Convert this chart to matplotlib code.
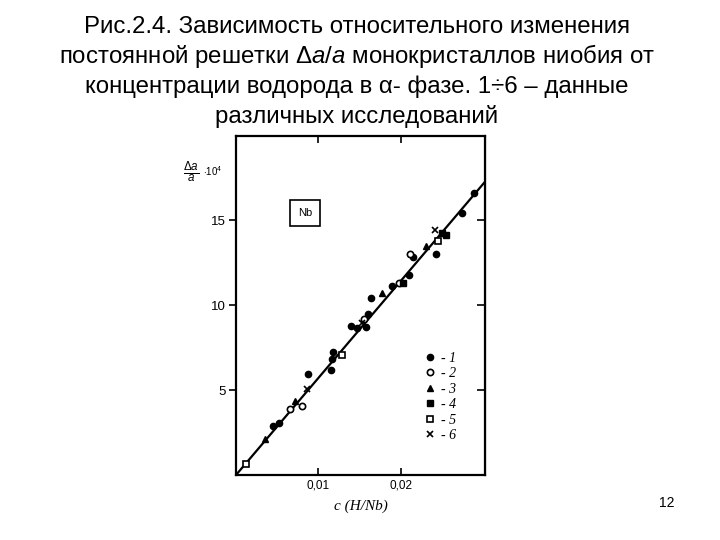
import matplotlib
matplotlib.use("Agg")
import matplotlib.pyplot as plt

plt.rcParams['font.family'] = ['Liberation Sans', 'DejaVu Sans']
plt.rcParams['mathtext.fontset'] = 'custom'
plt.rcParams['mathtext.rm'] = 'Liberation Sans'
plt.rcParams['mathtext.it'] = 'Liberation Sans:italic'

# ---- data ----
s1_c = [0.0289, 0.02736, 0.02423, 0.0215, 0.02098, 0.01894, 0.01638, 0.0160,
        0.01398, 0.01467, 0.01581, 0.01175, 0.01163, 0.01155, 0.00878, 0.00443, 0.00524]
s1_y = [16.6, 15.4, 13.0, 12.8, 11.76, 11.1, 10.4, 9.45,
        8.76, 8.67, 8.69, 7.25, 6.82, 6.18, 5.92, 2.88, 3.04]
s2_c = [0.02106, 0.01976, 0.0155, 0.00797, 0.00654]
s2_y = [13.0, 11.3, 9.2, 4.08, 3.88]
s3_c = [0.0230, 0.0177, 0.00716, 0.0035]
s3_y = [13.5, 10.7, 4.35, 2.1]
s4_c = [0.02545, 0.0250, 0.0202]
s4_y = [14.1, 14.25, 11.3]
s5_c = [0.02455, 0.01285, 0.00118]
s5_y = [13.8, 7.06, 0.63]
s6_c = [0.0241, 0.01528, 0.00858]
s6_y = [14.4, 8.96, 5.04]
line_c = [0.0, 0.0301]
line_y = [0.0, 17.2]

x_ticks = [0.01, 0.02]
x_ticklabels = ['0,01', '0,02']
y_ticks = [5, 10, 15]
y_ticklabels = ['5', '10', '15']
legend_labels = ['- 1', '- 2', '- 3', '- 4', '- 5', '- 6']

title_lines = [
    'Рис.2.4. Зависимость относительного изменения',
    r'постоянной решетки $\Delta\mathit{a/a}$ монокристаллов ниобия от',
    'концентрации водорода в α- фазе. 1÷6 – данные',
    'различных исследований',
]

fig = plt.figure(figsize=(7.2, 5.4), dpi=100)
ax = fig.add_axes([236/720, 1-475/540, 249/720, 339/540])

ax.plot(line_c, line_y, color='black', lw=1.6, zorder=1)
ms = 4.5
h1, = ax.plot(s1_c, s1_y, 'o', color='black', ms=ms, ls='none')
h2, = ax.plot(s2_c, s2_y, 'o', mfc='white', mec='black', mew=1.2, ms=ms, ls='none')
h3, = ax.plot(s3_c, s3_y, '^', color='black', ms=ms, ls='none')
h4, = ax.plot(s4_c, s4_y, 's', color='black', ms=ms-0.5, ls='none')
h5, = ax.plot(s5_c, s5_y, 's', mfc='white', mec='black', mew=1.2, ms=ms, ls='none')
h6, = ax.plot(s6_c, s6_y, 'x', color='black', mew=1.2, ms=ms, ls='none')

ax.set_xlim(0, 0.0302)
ax.set_ylim(0, 19.95)
for sp in ax.spines.values():
    sp.set_linewidth(1.6)

ax.set_xticks(x_ticks)
ax.set_xticklabels(x_ticklabels, fontsize=8.5)
ax.set_yticks(y_ticks)
ax.set_yticklabels(y_ticklabels, fontsize=9.5)
ax.tick_params(axis='x', direction='in', top=True, length=5, width=1.2, pad=3)
ax.tick_params(axis='y', direction='out', length=5, width=1.2, pad=2)
axr = ax.secondary_yaxis('right')
axr.set_yticks(y_ticks)
axr.set_yticklabels([])
axr.tick_params(direction='in', length=6, width=1.2)

ax.set_xlabel('c (H/Nb)', family='Liberation Serif', style='italic', fontsize=11, labelpad=6)

ax.text(0.277, 0.773, 'Nb', transform=ax.transAxes, ha='center', va='center', fontsize=8,
        bbox=dict(boxstyle='square,pad=0.7', fc='white', ec='black', lw=1.2))

leg = ax.legend([h1, h2, h3, h4, h5, h6], legend_labels, loc='lower left',
                bbox_to_anchor=(0.70, 0.06), frameon=False, handlelength=1.0,
                handletextpad=0.3, labelspacing=0.18,
                prop=dict(family='Liberation Serif', style='italic', size=10))

fig.text(191/720, 1-172/540, r'$\frac{\Delta a}{a}$', ha='center', va='center', fontsize=12)
fig.text(203/720, 1-171/540, r'$\cdot 10^4$', ha='left', va='center', fontsize=7)

baselines = [33, 63, 93, 123]
for line, b in zip(title_lines, baselines):
    fig.text(357/720, 1-b/540, line, ha='center', va='baseline', fontsize=17.3)

fig.text(667/720, 1-503/540, '12', ha='center', va='center', fontsize=10)

fig.savefig('out.png', dpi=100)
